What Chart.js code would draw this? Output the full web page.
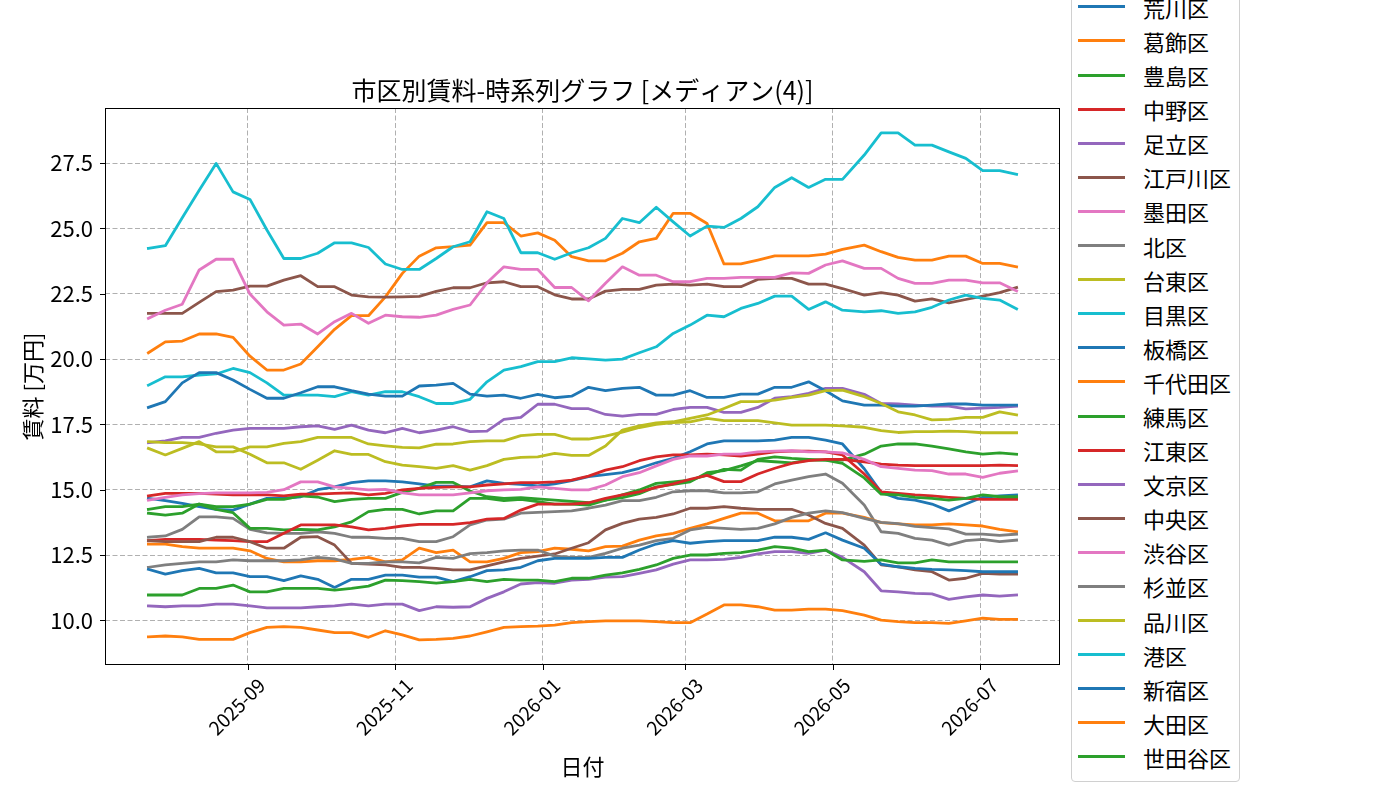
<!DOCTYPE html>
<html lang="ja">
<head>
    <meta charset="UTF-8">
    <title>市区別賃料-時系列グラフ</title>
    <script src="https://cdn.jsdelivr.net/npm/chart.js@4.4.0/dist/chart.umd.min.js"></script>
    <style>
        body { margin: 0; background: #fff; overflow: hidden; }
        #wrap { position: relative; width: 1400px; height: 800px; overflow: hidden; }
        #legend {
            position: absolute; right: 160px; bottom: 18px;
            border: 1px solid #d0d0d0; border-radius: 4px; background: #fff;
            padding: 5px 8px 7px 6px;
            font-family: 'Noto Sans CJK JP', 'Noto Sans', sans-serif; font-size: 22px; color: #000;
        }
        #legend .row { display: flex; align-items: center; height: 34.1px; }
        #legend .swatch { width: 47px; height: 3px; margin-right: 18px; }
    </style>
</head>
<body>
<div id="wrap">
    <canvas id="chart" width="1400" height="800"></canvas>
    <div id="legend"></div>
</div>
<script>
    // 日付 (週次)
    const dates = [
        '2025-07-22', '2025-07-29', '2025-08-05', '2025-08-12', '2025-08-19', '2025-08-26',
        '2025-09-02', '2025-09-09', '2025-09-16', '2025-09-23', '2025-09-30', '2025-10-07',
        '2025-10-14', '2025-10-21', '2025-10-28', '2025-11-04', '2025-11-11', '2025-11-18',
        '2025-11-25', '2025-12-02', '2025-12-09', '2025-12-16', '2025-12-23', '2025-12-30',
        '2026-01-06', '2026-01-13', '2026-01-20', '2026-01-27', '2026-02-03', '2026-02-10',
        '2026-02-17', '2026-02-24', '2026-03-03', '2026-03-10', '2026-03-17', '2026-03-24',
        '2026-03-31', '2026-04-07', '2026-04-14', '2026-04-21', '2026-04-28', '2026-05-05',
        '2026-05-14', '2026-05-21', '2026-05-28', '2026-06-04', '2026-06-11', '2026-06-18',
        '2026-06-25', '2026-07-02', '2026-07-09', '2026-07-16'
    ];
    const xTickLabels = ['2025-09', '2025-11', '2026-01', '2026-03', '2026-05', '2026-07'];
    const yTicks = [10, 12.5, 15, 17.5, 20, 22.5, 25, 27.5];
    const yMin = 8.29, yMax = 29.61;

    const wards = ['荒川区', '葛飾区', '豊島区', '中野区', '足立区', '江戸川区', '墨田区', '北区',
        '台東区', '目黒区', '板橋区', '千代田区', '練馬区', '江東区', '文京区', '中央区', '渋谷区',
        '杉並区', '品川区', '港区', '新宿区', '大田区', '世田谷区'];

    const arakawa = [14.67, 14.58, 14.48, 14.35, 14.25, 14.22, 14.45, 14.67, 14.67, 14.73, 15.0, 15.11, 15.27, 15.34,
        15.34, 15.30, 15.22, 15.14, 15.14, 15.11, 15.34, 15.24, 15.2, 15.15, 15.22, 15.35, 15.5, 15.58,
        15.65, 15.82, 16.03, 16.20, 16.45, 16.75, 16.87, 16.87, 16.87, 16.90, 17.00, 17.00, 16.90, 16.75,
        15.8, 14.9, 14.67, 14.60, 14.45, 14.19, 14.45, 14.71, 14.76, 14.80];
    const katsushika = [20.24, 20.66, 20.69, 20.96, 20.96, 20.83, 20.11, 19.58, 19.58, 19.81, 20.47, 21.14, 21.66, 21.66,
        22.38, 23.28, 23.94, 24.26, 24.30, 24.36, 25.22, 25.22, 24.71, 24.83, 24.55, 23.92, 23.76, 23.76,
        24.05, 24.49, 24.62, 25.58, 25.58, 25.19, 23.64, 23.64, 23.79, 23.95, 23.95, 23.95, 24.02, 24.20,
        24.36, 24.11, 23.89, 23.79, 23.79, 23.94, 23.94, 23.66, 23.66, 23.53];
    const toshima = [14.25, 14.35, 14.35, 14.45, 14.35, 14.35, 14.45, 14.63, 14.63, 14.76, 14.72, 14.54, 14.63, 14.67,
        14.67, 14.90, 15.05, 15.28, 15.28, 14.95, 14.73, 14.67, 14.70, 14.65, 14.60, 14.55, 14.50, 14.60,
        14.80, 14.99, 15.24, 15.30, 15.37, 15.56, 15.78, 15.75, 16.16, 16.26, 16.20, 16.16, 16.13, 16.13,
        16.36, 16.67, 16.75, 16.75, 16.67, 16.56, 16.45, 16.36, 16.41, 16.36];
    const nakano = [14.76, 14.86, 14.86, 14.86, 14.83, 14.80, 14.80, 14.80, 14.76, 14.83, 14.83, 14.86, 14.88, 14.80,
        14.86, 14.99, 15.05, 15.09, 15.11, 15.11, 15.18, 15.22, 15.27, 15.27, 15.30, 15.37, 15.52, 15.75,
        15.88, 16.11, 16.26, 16.33, 16.33, 16.36, 16.33, 16.29, 16.36, 16.45, 16.48, 16.48, 16.45, 16.33,
        15.6, 14.92, 14.86, 14.80, 14.76, 14.71, 14.67, 14.63, 14.63, 14.63];
    const adachi = [16.80, 16.87, 17.00, 17.00, 17.16, 17.28, 17.35, 17.35, 17.35, 17.41, 17.44, 17.31, 17.47, 17.28,
        17.18, 17.35, 17.18, 17.28, 17.41, 17.22, 17.24, 17.69, 17.77, 18.27, 18.27, 18.10, 18.10, 17.88,
        17.82, 17.88, 17.88, 18.07, 18.15, 18.15, 17.96, 17.96, 18.15, 18.50, 18.56, 18.69, 18.88, 18.88,
        18.65, 18.30, 18.28, 18.24, 18.20, 18.20, 18.09, 18.12, 18.15, 18.20];
    const edogawa = [21.75, 21.75, 21.75, 22.17, 22.58, 22.64, 22.79, 22.79, 23.02, 23.19, 22.77, 22.77, 22.45, 22.38,
        22.37, 22.38, 22.40, 22.59, 22.73, 22.73, 22.92, 22.96, 22.77, 22.77, 22.46, 22.30, 22.30, 22.60,
        22.67, 22.67, 22.83, 22.87, 22.83, 22.87, 22.77, 22.77, 23.05, 23.09, 23.09, 22.87, 22.87, 22.70,
        22.45, 22.54, 22.45, 22.22, 22.30, 22.15, 22.28, 22.41, 22.54, 22.74];
    const sumida = [21.56, 21.87, 22.10, 23.41, 23.82, 23.82, 22.49, 21.81, 21.30, 21.34, 20.96, 21.43, 21.75, 21.37,
        21.68, 21.62, 21.60, 21.68, 21.90, 22.07, 22.92, 23.53, 23.43, 23.43, 22.74, 22.74, 22.23, 22.90,
        23.53, 23.21, 23.21, 22.96, 22.96, 23.09, 23.09, 23.13, 23.13, 23.13, 23.30, 23.28, 23.60, 23.76,
        23.47, 23.47, 23.09, 22.90, 22.90, 23.02, 23.02, 22.92, 22.92, 22.61];
    const kita = [13.18, 13.23, 13.48, 13.96, 13.96, 13.90, 13.48, 13.35, 13.33, 13.33, 13.39, 13.33, 13.18, 13.18,
        13.14, 13.14, 13.01, 13.01, 13.20, 13.65, 13.84, 13.87, 14.10, 14.13, 14.16, 14.19, 14.29, 14.41,
        14.58, 14.58, 14.71, 14.92, 14.96, 14.96, 14.88, 14.88, 14.92, 15.22, 15.37, 15.50, 15.60, 15.25,
        14.41, 13.39, 13.33, 13.14, 13.07, 12.88, 13.05, 13.10, 13.01, 13.07];
    const taito = [16.58, 16.33, 16.58, 16.84, 16.45, 16.45, 16.64, 16.64, 16.77, 16.84, 17.00, 17.00, 17.00, 16.75,
        16.68, 16.62, 16.60, 16.74, 16.75, 16.84, 16.87, 16.87, 17.07, 17.12, 17.12, 16.94, 16.94, 17.05,
        17.20, 17.38, 17.50, 17.57, 17.60, 17.73, 17.64, 17.64, 17.64, 17.56, 17.47, 17.47, 17.47, 17.44,
        17.39, 17.26, 17.19, 17.22, 17.22, 17.24, 17.22, 17.18, 17.18, 17.18];
    const meguro = [19.00, 19.32, 19.32, 19.39, 19.43, 19.64, 19.48, 19.09, 18.62, 18.62, 18.62, 18.56, 18.75, 18.62,
        18.75, 18.75, 18.56, 18.30, 18.30, 18.46, 19.13, 19.58, 19.71, 19.90, 19.90, 20.05, 20.01, 19.96,
        20.00, 20.24, 20.47, 20.98, 21.30, 21.68, 21.62, 21.94, 22.13, 22.41, 22.41, 21.90, 22.19, 21.87,
        21.81, 21.85, 21.75, 21.81, 21.98, 22.26, 22.45, 22.32, 22.26, 21.92];
    const itabashi = [18.15, 18.37, 19.09, 19.48, 19.48, 19.20, 18.84, 18.50, 18.50, 18.71, 18.94, 18.94, 18.79, 18.66,
        18.58, 18.58, 18.97, 19.00, 19.07, 18.66, 18.58, 18.62, 18.50, 18.65, 18.52, 18.58, 18.92, 18.79,
        18.88, 18.92, 18.62, 18.62, 18.79, 18.53, 18.53, 18.66, 18.66, 18.92, 18.92, 19.13, 18.79, 18.40,
        18.24, 18.24, 18.20, 18.20, 18.24, 18.28, 18.28, 18.24, 18.24, 18.24];
    const chiyoda = [12.92, 12.92, 12.82, 12.76, 12.76, 12.76, 12.66, 12.37, 12.24, 12.24, 12.28, 12.28, 12.33, 12.41,
        12.24, 12.31, 12.76, 12.59, 12.69, 12.24, 12.24, 12.37, 12.59, 12.63, 12.76, 12.72, 12.66, 12.82,
        12.84, 13.07, 13.23, 13.33, 13.52, 13.69, 13.90, 14.10, 14.10, 13.81, 13.81, 13.81, 14.10, 14.10,
        13.94, 13.74, 13.69, 13.65, 13.65, 13.69, 13.65, 13.61, 13.48, 13.39];
    const nerima = [14.10, 14.03, 14.10, 14.45, 14.25, 14.12, 13.52, 13.52, 13.46, 13.48, 13.46, 13.58, 13.77, 14.16,
        14.25, 14.25, 14.07, 14.19, 14.19, 14.67, 14.67, 14.58, 14.63, 14.54, 14.45, 14.45, 14.41, 14.60,
        14.70, 14.85, 15.11, 15.20, 15.30, 15.65, 15.73, 15.91, 16.11, 16.07, 16.03, 16.13, 16.13, 16.01,
        15.45, 14.83, 14.80, 14.71, 14.67, 14.60, 14.67, 14.80, 14.73, 14.73];
    const koto = [13.05, 13.10, 13.10, 13.10, 13.07, 13.05, 13.01, 13.01, 13.33, 13.65, 13.65, 13.65, 13.58, 13.46,
        13.52, 13.61, 13.67, 13.67, 13.67, 13.74, 13.87, 13.90, 14.22, 14.45, 14.45, 14.45, 14.50, 14.67,
        14.80, 14.92, 15.09, 15.22, 15.40, 15.55, 15.31, 15.31, 15.60, 15.82, 16.01, 16.11, 16.16, 16.16,
        16.07, 15.98, 15.94, 15.92, 15.92, 15.92, 15.92, 15.92, 15.94, 15.92];
    const bunkyo = [10.55, 10.52, 10.55, 10.55, 10.62, 10.62, 10.55, 10.48, 10.48, 10.48, 10.52, 10.55, 10.62, 10.55,
        10.62, 10.62, 10.37, 10.52, 10.50, 10.52, 10.84, 11.09, 11.39, 11.44, 11.42, 11.54, 11.57, 11.65,
        11.67, 11.80, 11.93, 12.15, 12.31, 12.31, 12.33, 12.41, 12.54, 12.63, 12.63, 12.56, 12.69, 12.41,
        11.86, 11.13, 11.09, 11.03, 11.01, 10.80, 10.90, 10.97, 10.93, 10.97];
    const chuo = [13.05, 13.01, 13.01, 13.01, 13.18, 13.18, 13.01, 12.76, 12.76, 13.18, 13.20, 12.88, 12.18, 12.15,
        12.12, 12.03, 12.03, 11.99, 11.93, 11.93, 12.08, 12.24, 12.37, 12.46, 12.54, 12.76, 12.97, 13.46,
        13.71, 13.87, 13.94, 14.07, 14.29, 14.29, 14.35, 14.29, 14.25, 14.25, 14.25, 14.03, 13.71, 13.52,
        12.88, 12.12, 12.05, 11.93, 11.86, 11.54, 11.61, 11.80, 11.77, 11.77];
    const shibuya = [14.60, 14.71, 14.80, 14.85, 14.88, 14.88, 14.88, 14.90, 15.0, 15.30, 15.30, 15.11, 15.05, 14.99,
        15.01, 14.88, 14.80, 14.80, 14.80, 14.88, 14.96, 14.99, 15.01, 15.11, 15.05, 14.99, 14.99, 15.18,
        15.50, 15.65, 15.91, 16.16, 16.29, 16.29, 16.36, 16.36, 16.45, 16.48, 16.49, 16.45, 16.45, 16.41,
        16.16, 15.88, 15.82, 15.75, 15.73, 15.60, 15.60, 15.47, 15.63, 15.71];
    const suginami = [12.03, 12.12, 12.18, 12.24, 12.24, 12.31, 12.28, 12.28, 12.28, 12.31, 12.41, 12.35, 12.18, 12.18,
        12.24, 12.24, 12.20, 12.41, 12.37, 12.55, 12.59, 12.66, 12.69, 12.69, 12.46, 12.41, 12.41, 12.56,
        12.76, 12.88, 13.05, 13.14, 13.46, 13.56, 13.52, 13.48, 13.52, 13.69, 13.94, 14.10, 14.19, 14.12,
        13.9, 13.75, 13.7, 13.6, 13.55, 13.5, 13.3, 13.3, 13.25, 13.3];
    const shinagawa = [16.84, 16.80, 16.80, 16.75, 16.64, 16.64, 16.36, 16.03, 16.03, 15.78, 16.13, 16.49, 16.35, 16.35,
        16.07, 15.94, 15.88, 15.82, 15.92, 15.75, 15.92, 16.16, 16.24, 16.26, 16.39, 16.31, 16.31, 16.67,
        17.28, 17.44, 17.56, 17.60, 17.73, 17.86, 18.11, 18.37, 18.37, 18.43, 18.53, 18.62, 18.79, 18.81,
        18.56, 18.30, 17.98, 17.86, 17.67, 17.69, 17.77, 17.77, 17.98, 17.86];
    const minato = [24.24, 24.34, 25.41, 26.46, 27.49, 26.40, 26.11, 24.94, 23.85, 23.85, 24.05, 24.45, 24.45, 24.27,
        23.64, 23.43, 23.43, 23.85, 24.30, 24.49, 25.64, 25.38, 24.07, 24.07, 23.82, 24.07, 24.26, 24.62,
        25.38, 25.22, 25.81, 25.25, 24.71, 25.09, 25.04, 25.38, 25.83, 26.57, 26.94, 26.57, 26.88, 26.88,
        27.81, 28.66, 28.66, 28.19, 28.19, 27.93, 27.68, 27.21, 27.21, 27.07];
    const shinjuku = [11.95, 11.77, 11.90, 11.99, 11.82, 11.82, 11.67, 11.67, 11.52, 11.70, 11.57, 11.26, 11.57, 11.57,
        11.73, 11.73, 11.65, 11.65, 11.48, 11.67, 11.90, 11.93, 12.03, 12.28, 12.37, 12.37, 12.37, 12.41,
        12.41, 12.69, 12.92, 13.05, 12.95, 13.01, 13.05, 13.05, 13.05, 13.18, 13.18, 13.10, 13.35, 13.07,
        12.76, 12.15, 12.05, 11.99, 11.95, 11.93, 11.90, 11.86, 11.86, 11.86];
    const ota = [9.37, 9.40, 9.37, 9.27, 9.27, 9.27, 9.53, 9.73, 9.76, 9.73, 9.63, 9.53, 9.53, 9.35,
        9.60, 9.44, 9.25, 9.27, 9.31, 9.40, 9.56, 9.73, 9.76, 9.78, 9.82, 9.91, 9.95, 9.98,
        9.98, 9.98, 9.95, 9.91, 9.91, 10.24, 10.59, 10.59, 10.52, 10.39, 10.39, 10.43, 10.43, 10.37,
        10.20, 10.01, 9.95, 9.91, 9.91, 9.88, 9.98, 10.08, 10.04, 10.04];
    const setagaya = [10.97, 10.97, 10.97, 11.22, 11.22, 11.35, 11.09, 11.09, 11.22, 11.22, 11.22, 11.16, 11.22, 11.31,
        11.54, 11.52, 11.48, 11.42, 11.48, 11.57, 11.48, 11.57, 11.54, 11.54, 11.48, 11.61, 11.61, 11.73,
        11.82, 11.95, 12.12, 12.37, 12.50, 12.50, 12.56, 12.59, 12.69, 12.82, 12.76, 12.63, 12.69, 12.31,
        12.26, 12.31, 12.20, 12.20, 12.31, 12.24, 12.24, 12.24, 12.24, 12.24];

    const series = [arakawa, katsushika, toshima, nakano, adachi, edogawa, sumida, kita, taito, meguro,
        itabashi, chiyoda, nerima, koto, bunkyo, chuo, shibuya, suginami, shinagawa, minato,
        shinjuku, ota, setagaya];

    // matplotlib tab10
    const palette = ['#1f77b4', '#ff7f0e', '#2ca02c', '#d62728', '#9467bd',
        '#8c564b', '#e377c2', '#7f7f7f', '#bcbd22', '#17becf'];

    const FONT = "'Noto Sans CJK JP', 'Noto Sans', sans-serif";
    const day = s => Date.parse(s + 'T00:00:00Z') / 86400000;

    const xs = dates.map(day);
    const span = xs[xs.length - 1] - xs[0];
    const xMin = xs[0] - span * 0.05, xMax = xs[xs.length - 1] + span * 0.05;

    const datasets = series.map((vals, i) => ({
        label: wards[i],
        data: vals.map((v, k) => ({x: xs[k], y: v})),
        borderColor: palette[i % 10],
        borderWidth: 2.8,
        pointRadius: 0,
        tension: 0,
        borderJoinStyle: 'round',
        borderCapStyle: 'square',
        order: series.length - i
    }));

    // 枠線と目盛り線
    const frame = {
        id: 'frame',
        afterDraw(chart) {
            const {ctx, chartArea: a, scales: {x, y}} = chart;
            ctx.save();
            ctx.strokeStyle = '#000';
            ctx.lineWidth = 1;
            ctx.strokeRect(a.left + 0.5, a.top + 0.5, a.right - a.left - 1, a.bottom - a.top - 1);
            ctx.beginPath();
            x.ticks.forEach(t => {
                const px = Math.round(x.getPixelForValue(t.value)) + 0.5;
                ctx.moveTo(px, a.bottom); ctx.lineTo(px, a.bottom + 5);
            });
            y.ticks.forEach(t => {
                const py = Math.round(y.getPixelForValue(t.value)) + 0.5;
                ctx.moveTo(a.left - 5, py); ctx.lineTo(a.left, py);
            });
            ctx.stroke();
            ctx.restore();
        }
    };

    new Chart(document.getElementById('chart'), {
        type: 'line',
        data: {datasets},
        options: {
            responsive: false,
            animation: false,
            devicePixelRatio: 1,
            layout: {padding: {left: 0, right: 340, top: 0, bottom: 0}},
            plugins: {
                legend: {display: false},
                tooltip: {enabled: false},
                title: {
                    display: true,
                    text: '市区別賃料-時系列グラフ [メディアン(4)]',
                    fullSize: false,
                    color: '#000',
                    font: {family: FONT, size: 25, weight: 'normal'},
                    padding: {top: 75, bottom: 3}
                }
            },
            scales: {
                x: {
                    type: 'linear',
                    min: xMin,
                    max: xMax,
                    afterBuildTicks: s => { s.ticks = xTickLabels.map(l => ({value: day(l + '-01')})); },
                    afterFit: s => { s.height = 135; },
                    ticks: {
                        autoSkip: false,
                        minRotation: 45,
                        maxRotation: 45,
                        padding: 9,
                        labelOffset: 14,
                        color: '#000',
                        font: {family: FONT, size: 19},
                        callback: (v, i) => xTickLabels[i]
                    },
                    grid: {color: '#b0b0b0', lineWidth: 1, drawTicks: false},
                    border: {display: false, dash: [5, 2.5]},
                    title: {
                        display: true, text: '日付', color: '#000',
                        font: {family: FONT, size: 22},
                        padding: {top: 0, bottom: 20}
                    }
                },
                y: {
                    min: yMin,
                    max: yMax,
                    afterBuildTicks: s => { s.ticks = yTicks.map(v => ({value: v})); },
                    afterFit: s => { s.width = 105; },
                    ticks: {
                        padding: 12,
                        color: '#000',
                        font: {family: FONT, size: 22},
                        callback: v => v.toFixed(1)
                    },
                    grid: {color: '#b0b0b0', lineWidth: 1, drawTicks: false},
                    border: {display: false, dash: [5, 2.5]},
                    title: {
                        display: true, text: '賃料 [万円]', color: '#000',
                        font: {family: FONT, size: 22},
                        padding: {top: 19, bottom: 0}
                    }
                }
            }
        },
        plugins: [frame]
    });

    // 凡例
    const legend = document.getElementById('legend');
    wards.forEach((name, i) => {
        const row = document.createElement('div');
        row.className = 'row';
        const sw = document.createElement('span');
        sw.className = 'swatch';
        sw.style.background = palette[i % 10];
        const label = document.createElement('span');
        label.textContent = name;
        row.appendChild(sw);
        row.appendChild(label);
        legend.appendChild(row);
    });
</script>
</body>
</html>
